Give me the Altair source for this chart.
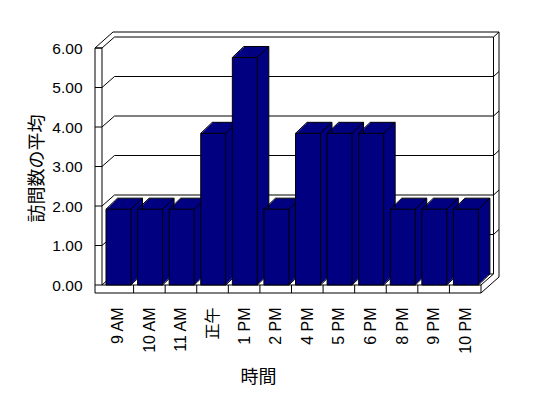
import json
import altair as alt
import pandas as pd

# ---------------- data ----------------
hours = ["9 AM", "10 AM", "11 AM", "正午", "1 PM", "2 PM", "4 PM", "5 PM",
         "6 PM", "8 PM", "9 PM", "10 PM"]
avg_visits = [1.92, 1.92, 1.92, 3.84, 5.76, 1.92, 3.84, 3.84, 3.84, 1.92, 1.92, 1.92]
y_ticks = [0, 1, 2, 3, 4, 5, 6]

# ---------------- layout constants ----------------
UX, UY = 31.6, 39.5          # px per category / px per value unit
W, H = 405, 262
X_MIN, X_MAX = -7 / UX, 12 + 19 / UX
Y_MIN, Y_MAX = -8 / UY, 254 / UY
BAR_L, BAR_R = 4 / UX, 29 / UX          # bar front face within a category
BDX, BDY = 11.5, 11.0                   # bar depth (px)
D1 = (12.5 / UX, 11 / UY)               # wall inner depth (data units)
D2 = (18 / UX, 16 / UY)                 # wall outer depth (data units)
NAVY = "#000080"
n = len(hours)

bars = pd.DataFrame({
    "hour": hours,
    "x": [i + BAR_L for i in range(n)],
    "x2": [i + BAR_R for i in range(n)],
    "y": avg_visits,
    "y2": [0.0] * n,
})

# ---------------- wall / floor segments ----------------
XLO, XLI, XR = X_MIN, 0.0, float(n)
YBO, YBI, YT = Y_MIN, 0.0, 6.0
segs = []
def seg(x, y, x2, y2):
    segs.append({"x": x, "y": y, "x2": x2, "y2": y2})

seg(XLO, YBO, XLO, YT)
seg(XLI, YBI, XLI, YT)
seg(XLO, YT, XLI, YT)
seg(XLO, YT, XLO + D2[0], YT + D2[1])
seg(XLI, YT, XLI + D1[0], YT + D1[1])
seg(XLO + D2[0], YT + D2[1], XR + D2[0], YT + D2[1])
seg(XLI + D1[0], YT + D1[1], XR + D1[0], YT + D1[1])
seg(XR + D1[0], YT + D1[1], XR + D2[0], YT + D2[1])
seg(XR + D1[0], YBI + D1[1], XR + D1[0], YT + D1[1])
seg(XR + D2[0], YBO + D2[1], XR + D2[0], YT + D2[1])
seg(XLO, YBO, XR, YBO)
seg(XLI, YBI, XR, YBI)
seg(XR, YBO, XR, YBI)
seg(XR, YBI, XR + D1[0], YBI + D1[1])
seg(XR, YBO, XR + D2[0], YBO + D2[1])
for k in range(1, n):
    seg(k, YBO, k, YBI)
for v in y_ticks:
    seg(XLO, v, XLI, v)
    if v < 6:
        seg(XLI, v, XLI + D1[0], v + D1[1])
        seg(XLI + D1[0], v + D1[1], XR + D1[0], v + D1[1])
    if 0 < v < 6:
        seg(XR + D1[0], v + D1[1], XR + D2[0], v + D2[1])
walls = pd.DataFrame(segs)

# ---------------- encodings ----------------
FONT = "'Liberation Sans', 'Noto Sans CJK JP', sans-serif"
CJK = "'Noto Sans CJK JP', sans-serif"
xs = alt.Scale(domain=[X_MIN, X_MAX], nice=False, zero=False)
ys = alt.Scale(domain=[Y_MIN, Y_MAX], nice=False, zero=False)
xax = alt.Axis(
    values=[i + 0.5 for i in range(n)],
    labelExpr=json.dumps(hours, ensure_ascii=False) + "[floor(datum.value)]",
    labelAngle=270, labelAlign="right", labelBaseline="middle",
    labelPadding=14, labelFont=FONT, labelFontSize=16, labelColor="black",
    ticks=False, domain=False, grid=False, title="時間",
    titleFont=CJK, titleFontSize=18, titleFontWeight="normal", titleColor="black",
    titleX=163, titleY=84, titleAlign="center", titleBaseline="middle", titleAngle=0,
)
yax = alt.Axis(
    values=y_ticks, format=".2f", labelPadding=13, labelFont=FONT,
    labelFontSize=15.5, labelColor="black", ticks=False, domain=False, grid=False,
    title="訪問数の平均", titleFont=CJK, titleFontSize=18, titleFontWeight="normal",
    titleColor="black", titleX=-58, titleY=137, titleAlign="center",
    titleBaseline="middle", titleAngle=270,
)
enc = dict(
    x=alt.X("x:Q", scale=xs, axis=xax),
    x2="x2:Q",
    y=alt.Y("y:Q", scale=ys, axis=yax),
    y2="y2:Q",
)

layers = [alt.Chart(walls).mark_rule(color="black", strokeWidth=1).encode(**enc)]

# extrusion (top + side faces)
steps = 12
for k in range(1, steps + 1):
    ox, oy = k * BDX / steps, -k * BDY / steps
    layers.append(
        alt.Chart(bars).mark_rect(color=NAVY, xOffset=ox, x2Offset=ox,
                                  yOffset=oy, y2Offset=oy).encode(**enc)
    )

# extrusion edges
tl = bars.assign(x2=bars["x"], y2=bars["y"])
tr = bars.assign(x=bars["x2"], y2=bars["y"])
br = bars.assign(x=bars["x2"], y=bars["y2"])
backtop = bars.assign(y2=bars["y"])
backright = bars.assign(x=bars["x2"])
for d in (tl, tr, br):
    layers.append(alt.Chart(d).mark_rule(color="black", strokeWidth=1,
                                         x2Offset=BDX, y2Offset=-BDY).encode(**enc))
for d in (backtop, backright):
    layers.append(alt.Chart(d).mark_rule(color="black", strokeWidth=1,
                                         xOffset=BDX, x2Offset=BDX,
                                         yOffset=-BDY, y2Offset=-BDY).encode(**enc))

# front faces
layers.append(alt.Chart(bars).mark_rect(color=NAVY, stroke="black",
                                        strokeWidth=1).encode(**enc))

chart = alt.layer(*layers).properties(
    width=W, height=H,
    autosize=alt.AutoSizeParams(type="none"),
    padding={"left": 95, "top": 31, "right": 48, "bottom": 105},
    background="white",
).configure_view(stroke=None)

chart.save("out.html", embed_options={"renderer": "svg", "actions": False})
